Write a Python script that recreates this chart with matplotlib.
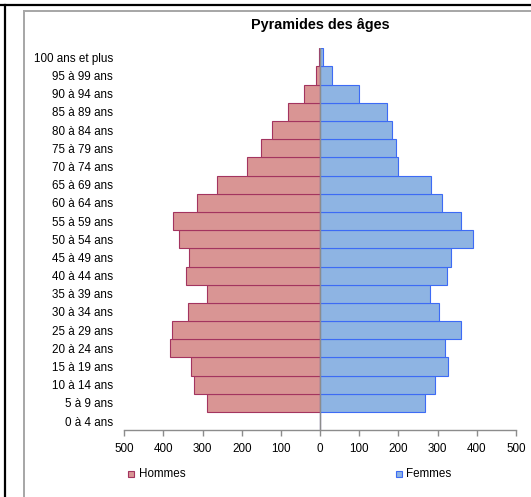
import matplotlib
matplotlib.use("Agg")
import matplotlib.pyplot as plt
from matplotlib.lines import Line2D
from matplotlib.patches import Rectangle
from matplotlib.ticker import FuncFormatter, MultipleLocator

plt.rcParams['font.family'] = ['Liberation Sans', 'DejaVu Sans']

categories = ["0 à 4 ans", "5 à 9 ans", "10 à 14 ans", "15 à 19 ans", "20 à 24 ans",
              "25 à 29 ans", "30 à 34 ans", "35 à 39 ans", "40 à 44 ans", "45 à 49 ans",
              "50 à 54 ans", "55 à 59 ans", "60 à 64 ans", "65 à 69 ans", "70 à 74 ans",
              "75 à 79 ans", "80 à 84 ans", "85 à 89 ans", "90 à 94 ans", "95 à 99 ans",
              "100 ans et plus"]
hommes = [0, 290, 323, 329, 383, 378, 338, 288, 343, 336,
          361, 376, 314, 264, 188, 152, 124, 81, 41, 11, 4]
femmes = [0, 268, 292, 326, 320, 360, 303, 281, 324, 334,
          391, 360, 311, 283, 200, 193, 184, 170, 98, 30, 8]
xticks = [-500, -400, -300, -200, -100, 0, 100, 200, 300, 400, 500]
title = "Pyramides des âges"
legend_labels = ["Hommes", "Femmes"]

W, H = 531, 497
fig = plt.figure(figsize=(W / 100, H / 100), dpi=100)
fig.patch.set_facecolor("white")

def fx(px):
    return px / W

def fy(py):
    return 1 - py / H

# frames
fig.add_artist(Line2D([0, 1], [fy(5), fy(5)], transform=fig.transFigure, color="black", lw=1.6))
fig.add_artist(Line2D([fx(5), fx(5)], [fy(5), 0], transform=fig.transFigure, color="black", lw=1.6))
fig.add_artist(Line2D([fx(24), 1], [fy(11), fy(11)], transform=fig.transFigure, color="#A6A6A6", lw=1.4))
fig.add_artist(Line2D([fx(24), fx(24)], [fy(11), 0], transform=fig.transFigure, color="#A6A6A6", lw=1.4))

left, right, top, bottom = 124.3, 516.0, 48.3, 430.2
ax = fig.add_axes([fx(left), fy(bottom), fx(right - left), (bottom - top) / H])

men_fill, men_edge = "#D99594", "#A3345F"
wom_fill, wom_edge = "#8EB4E3", "#3D6BF5"

y = list(range(len(categories)))
ax.barh(y, [-v for v in hommes], height=1.0, color=men_fill, edgecolor=men_edge, linewidth=0.8, zorder=2)
ax.barh(y, femmes, height=1.0, color=wom_fill, edgecolor=wom_edge, linewidth=0.8, zorder=2)
ax.axvline(0, color="#8C8C8C", lw=1.0, zorder=3)

ax.set_xlim(-500, 500)
ax.set_ylim(-0.5, len(categories) - 0.5)
ax.set_xticks(xticks)
ax.xaxis.set_major_formatter(FuncFormatter(lambda v, p: f"{abs(int(v))}"))
ax.set_yticks(y)
ax.set_yticklabels(categories)
ax.tick_params(axis="y", length=0, pad=8, labelsize=8.4, colors="black")
ax.tick_params(axis="x", length=4, width=1, color="#8C8C8C", direction="out", pad=5, labelsize=8.4)
for s in ["left", "right", "top"]:
    ax.spines[s].set_visible(False)
ax.spines["bottom"].set_color("#8C8C8C")
ax.spines["bottom"].set_linewidth(1.0)
ax.set_facecolor("none")

fig.text(fx(320), fy(25), title, ha="center", va="center", fontsize=10.4, fontweight="bold")

# legend
for (mx, tx, fc, ec, lab) in [(131, 139, men_fill, men_edge, legend_labels[0]),
                               (399, 406, wom_fill, wom_edge, legend_labels[1])]:
    fig.add_artist(Rectangle((fx(mx - 3), fy(477)), fx(6), 6 / H, transform=fig.transFigure,
                             facecolor=fc, edgecolor=ec, lw=0.8))
    fig.text(fx(tx), fy(474), lab, ha="left", va="center", fontsize=8.4)

fig.savefig("out.png", dpi=100)
